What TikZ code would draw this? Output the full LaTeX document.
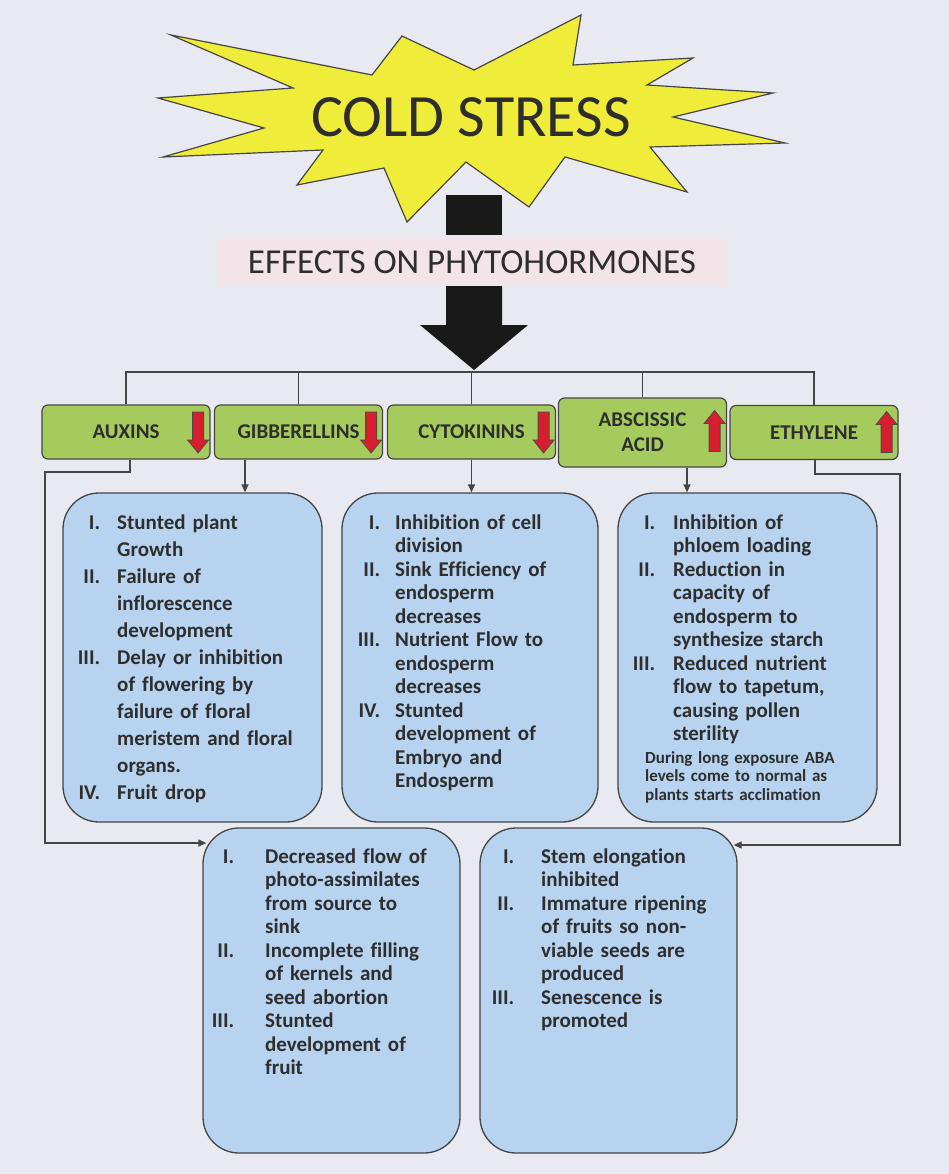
\documentclass[tikz,border=0pt]{standalone}
\usepackage{fontspec}
\setmainfont{Carlito}[Ligatures=NoCommon]
\usetikzlibrary{calc,arrows.meta}

\definecolor{pagebg}{HTML}{E9EAF1}
\definecolor{burst}{HTML}{F0EC3A}
\definecolor{leaf}{HTML}{A5CB5E}
\definecolor{sky}{HTML}{B7D3EF}
\definecolor{ink}{HTML}{2E2E2E}
\definecolor{edge}{HTML}{454545}
\definecolor{alarm}{HTML}{D81E2E}
\definecolor{blush}{HTML}{F3E4E9}

% numbered item: the numeral hangs to the left of the text column
\newlength{\numgap}
\newcommand{\hitem}[2]{\ifvmode\noindent\fi\llap{#1\hspace{\numgap}}#2\par}

\begin{document}
\begin{tikzpicture}[x=1pt,y=-1pt,
  hormone/.style={draw=edge, line width=1.2pt, fill=leaf, rounded corners=6pt,
    minimum width=168pt, minimum height=54pt, inner sep=0pt,
    font=\fontsize{21}{25}\selectfont\bfseries, text=ink},
  effectbox/.style={draw=edge, line width=1.3pt, fill=sky, rounded corners=36pt, inner sep=0pt},
  effecttext/.style={anchor=base west, inner sep=0pt, text width=300pt, align=left,
    text=ink, font=\fontsize{21}{23.5}\selectfont\bfseries},
  conn/.style={draw=edge, line width=1.3pt},
  arr/.style={conn, -{Triangle[length=8pt,width=7pt]}},
  redarrow/.style={fill=alarm, draw=black!70, line width=0.8pt, line join=miter},
  pics/downarrow/.style={code={\filldraw[redarrow] (-5.5,-20) -- (5.5,-20) -- (5.5,8) -- (10.5,8) -- (0,21) -- (-10.5,8) -- (-5.5,8) -- cycle;}},
  pics/uparrow/.style={code={\filldraw[redarrow] (-5.5,20) -- (5.5,20) -- (5.5,-8) -- (10.5,-8) -- (0,-21) -- (-10.5,-8) -- (-5.5,-8) -- cycle;}},
]
\fill[pagebg] (0,0) rectangle (949,1174);
\useasboundingbox (0,0) rectangle (949,1174);

% cold stress burst
\filldraw[fill=burst, draw=edge, line width=1.2pt, line join=miter]
  (171,35) -- (372,75) -- (402,36) -- (474,70) -- (581,15) -- (573,65)
  -- (693,58) -- (647,85) -- (773,93) -- (673,117) -- (785,143) -- (650,147)
  -- (687,192) -- (565,157) -- (529,207) -- (466,162) -- (407,222) -- (384,168)
  -- (297,185) -- (323,150) -- (163,157) -- (264,128) -- (158,98) -- (293,88) -- cycle;
\node[font=\fontsize{60}{60}\selectfont, text=ink] (cold) at (471,117) {COLD STRESS};

% stem block and heading
\node[fill=black!90, minimum width=56pt, minimum height=40pt, inner sep=0pt] (stem) at (474,215) {};
\node[fill=blush, minimum width=508pt, minimum height=47pt, inner sep=0pt,
      font=\fontsize{35}{35}\selectfont, text=ink] (effects) at (472,262) {EFFECTS ON PHYTOHORMONES};

% big down arrow
\fill[black!90] (446,286) -- (502,286) -- (502,325) -- (528,325) -- (474,370)
  -- (420,325) -- (446,325) -- cycle;
\coordinate (hub) at (474,372);

% hormones
\node[hormone] (aux) at (126,432) {AUXINS};
\node[hormone] (gib) at (298.5,432) {GIBBERELLINS};
\node[hormone] (cyt) at (471.5,432) {CYTOKININS};
\node[hormone, align=center, minimum height=69pt] (aba) at (642.5,432.5) {ABSCISSIC\\ACID};
\node[hormone] (eth) at (814,432.5) {ETHYLENE};

\pic at ($(aux.east)+(-12.5,0)$) {downarrow};
\pic at ($(gib.east)+(-12,0)$) {downarrow};
\pic at ($(cyt.east)+(-12.5,0)$) {downarrow};
\pic at ($(aba.east)+(-12.5,-1)$) {uparrow};
\pic at ($(eth.east)+(-12,0)$) {uparrow};

% tree from the big arrow to the hormones
\draw[conn] (aux.north) |- (hub) -| (eth.north);
\draw[conn] (gib.north) -- (gib.north |- hub);
\draw[conn] (cyt.north) -- (cyt.north |- hub);
\draw[conn] (aba.north) -- (aba.north |- hub);

% effect boxes
\node[effectbox, minimum width=259pt, minimum height=329pt] (b1) at (192.5,657.5) {};
\node[effectbox, minimum width=256pt, minimum height=329pt] (b2) at (470,657.5) {};
\node[effectbox, minimum width=259pt, minimum height=329pt] (b3) at (747.5,657.5) {};
\node[effectbox, minimum width=257pt, minimum height=325pt] (b4) at (331.5,990.5) {};
\node[effectbox, minimum width=257pt, minimum height=325pt] (b5) at (608.5,990.5) {};

\node[effecttext, font=\fontsize{21}{27}\selectfont\bfseries] (t1) at (117,529) {\setlength{\numgap}{17pt}%
\hitem{I.}{Stunted plant\\Growth}%
\hitem{II.}{Failure of\\inflorescence\\development}%
\hitem{III.}{Delay or inhibition\\of flowering by\\failure of floral\\meristem and floral\\organs.}%
\hitem{IV.}{Fruit drop}};

\node[effecttext] (t2) at (395,529) {\setlength{\numgap}{15pt}%
\hitem{I.}{Inhibition of cell\\division}%
\hitem{II.}{Sink Efficiency of\\endosperm\\decreases}%
\hitem{III.}{Nutrient Flow to\\endosperm\\decreases}%
\hitem{IV.}{Stunted\\development of\\Embryo and\\Endosperm}};

\node[effecttext] (t3) at (673,529) {\setlength{\numgap}{18pt}%
\hitem{I.}{Inhibition of\\phloem loading}%
\hitem{II.}{Reduction in\\capacity of\\endosperm to\\synthesize starch}%
\hitem{III.}{Reduced nutrient\\flow to tapetum,\\causing pollen\\sterility}};

\node[effecttext, font=\fontsize{17}{18.7}\selectfont\bfseries] (note) at (645,763)
  {During long exposure ABA\\levels come to normal as\\plants starts acclimation};

\node[effecttext] (t4) at (265,863) {\setlength{\numgap}{31pt}%
\hitem{I.}{Decreased flow of\\photo-assimilates\\from source to\\sink}%
\hitem{II.}{Incomplete filling\\of kernels and\\seed abortion}%
\hitem{III.}{Stunted\\development of\\fruit}};

\node[effecttext] (t5) at (541,863) {\setlength{\numgap}{27pt}%
\hitem{I.}{Stem elongation\\inhibited}%
\hitem{II.}{Immature ripening\\of fruits so non-\\viable seeds are\\produced}%
\hitem{III.}{Senescence is\\promoted}};

% hormone to effect arrows
\coordinate (gout) at ($(gib.south)+(-53.5,0)$);
\draw[arr] (gout) -- (gout |- b1.north);
\draw[arr] (cyt.south) -- (cyt.south |- b2.north);
\coordinate (aout) at ($(aba.south)+(44.5,0)$);
\draw[arr] (aout) -- (aout |- b3.north);

\coordinate (xout) at ($(aux.south)+(4,0)$);
\coordinate (auxbend) at (45,472);
\coordinate (auxrow) at (45,843);
\draw[arr] (xout) |- (auxbend) -- (auxrow) -- ($(auxrow -| b4.west)+(4,0)$);

\coordinate (eout) at ($(eth.south)+(1,0)$);
\coordinate (ethbend) at (900,474);
\coordinate (ethrow) at (900,845);
\draw[arr] (eout) |- (ethbend) -- (ethrow) -- ($(ethrow -| b5.east)+(-4,0)$);
\end{tikzpicture}
\end{document}
